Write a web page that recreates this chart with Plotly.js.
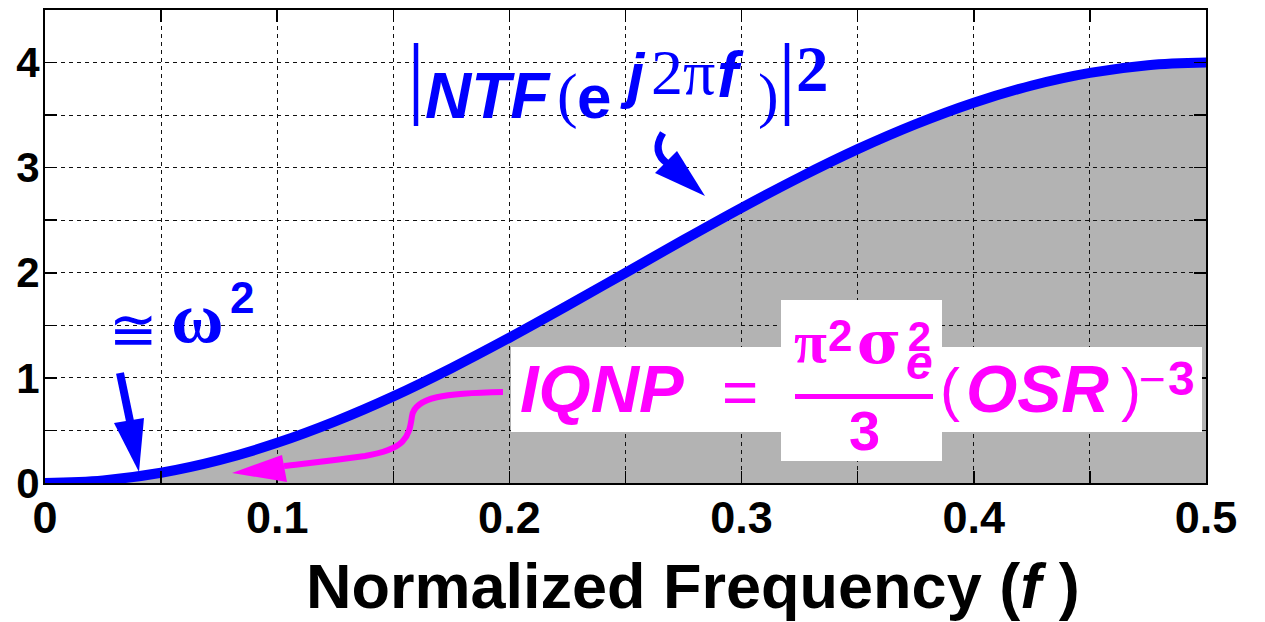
<!DOCTYPE html>
<html>
<head>
<meta charset="utf-8">
<script src="https://cdn.plot.ly/plotly-3.0.1.min.js"></script>
<style>
  html, body { margin: 0; padding: 0; background: #fff; }
  #chart { width: 1265px; height: 622px; }
  #chart .js-line { stroke-linecap: round; }
  #chart .cartesianlayer .plot { clip-path: none !important; }
</style>
</head>
<body>
<div id="chart"></div>
<script>
// Normalized frequency f and the noise-transfer power |NTF(e^{j2πf})|^2
const freq = [0, 0.025, 0.05, 0.075, 0.1, 0.125, 0.15, 0.175, 0.2, 0.225, 0.25,
              0.275, 0.3, 0.325, 0.35, 0.375, 0.4, 0.425, 0.45, 0.475, 0.5];
const ntfPower = [0, 0.025, 0.098, 0.218, 0.382, 0.586, 0.824, 1.092, 1.382, 1.687, 2.0,
                  2.313, 2.618, 2.908, 3.176, 3.414, 3.618, 3.782, 3.902, 3.975, 4.0];

// Axis ticks: every grid step carries a tick, labels on the major ones only
const xTickVals = [0, 0.05, 0.1, 0.15, 0.2, 0.25, 0.3, 0.35, 0.4, 0.45, 0.5];
const xTickText = ['0', '', '0.1', '', '0.2', '', '0.3', '', '0.4', '', '0.5'];
const yTickVals = [0, 0.5, 1, 1.5, 2, 2.5, 3, 3.5, 4, 4.5];
const yTickText = ['0', '', '1', '', '2', '', '3', '', '4', ''];

const xTitle = 'Normalized Frequency (<i>f</i> )';

// ---- page geometry helpers (pixels -> paper fractions) ----
const W = 1265, H = 622;
const M = { l: 45, r: 59, t: 10, b: 139 };
const PW = W - M.l - M.r, PH = H - M.t - M.b;
const px = x => (x - M.l) / PW;
const py = y => (H - M.b - y) / PH;

const SANS = 'Liberation Sans, Arial, Helvetica, sans-serif';
const SERIF = 'Liberation Serif, Times New Roman, Times, serif';
const WIDE_SERIF = 'DejaVu Serif, Liberation Serif, serif';
const DEJAVU = 'DejaVu Sans, sans-serif';
const BLUE = '#0000ff';
const MAGENTA = '#ff00ff';

// text piece placed by its left edge and baseline
function label(text, x, base, size, o = {}) {
  return {
    xref: 'paper', yref: 'paper',
    x: px(x), y: py(base - 0.345 * size),
    xanchor: o.anchor || 'left', yanchor: 'middle',
    showarrow: false, borderpad: 0, text,
    font: { family: o.family || SANS, size, color: o.color || '#000',
            weight: o.weight || 'normal', style: o.style || 'normal' }
  };
}

// SVG path built from pixel points
function pathPx(parts) {
  return parts.map(p => Array.isArray(p) ? px(p[0]).toFixed(5) + ',' + py(p[1]).toFixed(5) : p).join(' ');
}
function strokeShape(parts, color, width) {
  return { type: 'path', xref: 'paper', yref: 'paper', layer: 'above',
           path: pathPx(parts), line: { color, width }, fillcolor: 'rgba(0,0,0,0)' };
}
function fillShape(parts, color) {
  return { type: 'path', xref: 'paper', yref: 'paper', layer: 'above',
           path: pathPx(parts), line: { color, width: 0 }, fillcolor: color };
}
function rectPx(x0, y0, x1, y1, color) {
  return { type: 'rect', xref: 'paper', yref: 'paper', layer: 'above',
           x0: px(x0), x1: px(x1), y0: py(y1), y1: py(y0),
           line: { width: 0 }, fillcolor: color };
}

// ---- traces ----
const area = {
  x: freq, y: ntfPower, xaxis: 'x', yaxis: 'y',
  type: 'scatter', mode: 'lines', fill: 'tozeroy',
  fillcolor: '#b3b3b3', line: { width: 0, shape: 'spline', color: '#b3b3b3' },
  hoverinfo: 'skip'
};
const curve = {
  x: freq, y: ntfPower, xaxis: 'x2', yaxis: 'y2',
  type: 'scatter', mode: 'lines',
  line: { color: BLUE, width: 10, shape: 'spline' }
};

const tickFontX = { family: SANS, size: 45, color: '#000', weight: 'bold' };
const tickFontY = { family: SANS, size: 42, color: '#000', weight: 'bold' };
const gridStyle = { showgrid: true, gridcolor: '#111', gridwidth: 1, griddash: '4px,4px', zeroline: false };
const frameStyle = { showline: true, linewidth: 2, linecolor: '#000', mirror: 'ticks',
                     ticks: 'inside', ticklen: 12, tickwidth: 1.5, tickcolor: '#000' };

const shapes = [
  // formula backdrop
  rectPx(511, 347, 1202, 432, '#fff'),
  rectPx(781, 300, 942, 461, '#fff'),
  // fraction bar
  rectPx(795, 394, 933, 399, MAGENTA),
  // arrow toward the low-frequency end of the curve
  { type: 'line', xref: 'paper', yref: 'paper', layer: 'above',
    x0: px(120), y0: py(373), x1: px(131), y1: py(426), line: { color: BLUE, width: 8 } },
  fillShape(['M', [114, 423], 'L', [144, 418], 'L', [139, 472], 'Z'], BLUE),
  // hooked arrow from the NTF label
  strokeShape(['M', [663, 133], 'Q', [651, 152], [668, 164]], BLUE, 7),
  fillShape(['M', [655, 173], 'L', [677, 151], 'L', [705, 196], 'Z'], BLUE),
  // in-band noise arrow
  strokeShape(['M', [503, 392], 'C', [445, 393], [415, 397], [412, 416],
               'C', [409, 438], [405, 449], [365, 456],
               'C', [330, 461], [300, 464], [284, 466]], MAGENTA, 6),
  fillShape(['M', [282, 455], 'L', [287, 482], 'L', [232, 473], 'Z'], MAGENTA)
];

// stacked exponent over subscript of sigma, as one two-line text
const sigmaScripts = {
  xref: 'paper', yref: 'paper', x: px(919), y: py(351),
  xanchor: 'center', yanchor: 'middle', align: 'center',
  showarrow: false, borderpad: 0,
  text: '<span style="font-size:42px"><b>2</b></span><br><span style="font-size:48px"><b><i>e</i></b></span>',
  font: { family: SANS, size: 21.5, color: MAGENTA }
};

const annotations = [
  // x-axis title
  label(xTitle, 693, 608, 63, { anchor: 'center', weight: 'bold' }),

  // |NTF(e^{j2πf})|^2
  label('|', 406, 108, 90, { family: SERIF, color: BLUE }),
  label('NTF', 424, 118, 64, { color: BLUE, weight: 'bold', style: 'italic' }),
  label('(', 556, 117, 62, { family: SERIF, color: BLUE }),
  label('e', 576, 118, 62, { color: BLUE, weight: 'bold' }),
  label('j', 619, 96, 62, { color: BLUE, weight: 'bold', style: 'italic' }),
  label('2π', 650, 95, 64, { family: SERIF, color: BLUE }),
  label('f', 716, 97, 64, { color: BLUE, weight: 'bold', style: 'italic' }),
  label(')', 757, 117, 62, { family: SERIF, color: BLUE }),
  label('|', 777, 108, 90, { family: SERIF, color: BLUE }),
  label('2', 795, 91, 65, { family: SERIF, color: BLUE, weight: 'bold' }),

  // ≅ ω^2
  label('≅', 108, 350, 58, { family: DEJAVU, color: BLUE }),
  label('ω', 170, 343, 72, { family: SERIF, color: BLUE, weight: 'bold' }),
  label('2', 229, 313, 44, { color: BLUE, weight: 'bold' }),

  // IQNP = π^2 σ_e^2 / 3 (OSR)^-3
  label('IQNP', 519, 412, 67, { color: MAGENTA, weight: 'bold', style: 'italic' }),
  label('=', 721, 413, 62, { color: MAGENTA }),
  label('π', 793, 363, 60, { family: SERIF, color: MAGENTA, weight: 'bold' }),
  label('2', 827, 351, 44, { color: MAGENTA, weight: 'bold' }),
  label('σ', 856, 363, 60, { family: WIDE_SERIF, color: MAGENTA, weight: 'bold' }),
  sigmaScripts,
  label('3', 864, 450, 56, { anchor: 'center', color: MAGENTA, weight: 'bold' }),
  label('(', 939, 410, 60, { color: MAGENTA }),
  label('OSR', 965, 412, 66, { color: MAGENTA, weight: 'bold', style: 'italic' }),
  label(')', 1120, 410, 60, { color: MAGENTA }),
  label('−', 1138, 395, 46, { color: MAGENTA }),
  label('3', 1167, 395, 48, { color: MAGENTA, weight: 'bold' })
];

const layout = {
  width: W, height: H,
  margin: { l: M.l, r: M.r, t: M.t, b: M.b, pad: 0 },
  paper_bgcolor: '#fff', plot_bgcolor: 'rgba(0,0,0,0)',
  showlegend: false,
  xaxis: { domain: [0, 1], range: [0, 0.5], visible: false, fixedrange: true },
  yaxis: { domain: [0, 1], range: [0, 4.5], visible: false, fixedrange: true },
  xaxis2: Object.assign({ anchor: 'y2', domain: [0, 1], range: [0, 0.5],
    tickmode: 'array', tickvals: xTickVals, ticktext: xTickText,
    tickfont: tickFontX, ticklabelstandoff: -6, fixedrange: true }, gridStyle, frameStyle),
  yaxis2: Object.assign({ anchor: 'x2', domain: [0, 1], range: [0, 4.5],
    tickmode: 'array', tickvals: yTickVals, ticktext: yTickText,
    tickfont: tickFontY, ticklabelstandoff: -5, fixedrange: true }, gridStyle, frameStyle),
  shapes, annotations
};

Plotly.newPlot('chart', [area, curve], layout, { displayModeBar: false, staticPlot: true });
</script>
</body>
</html>
